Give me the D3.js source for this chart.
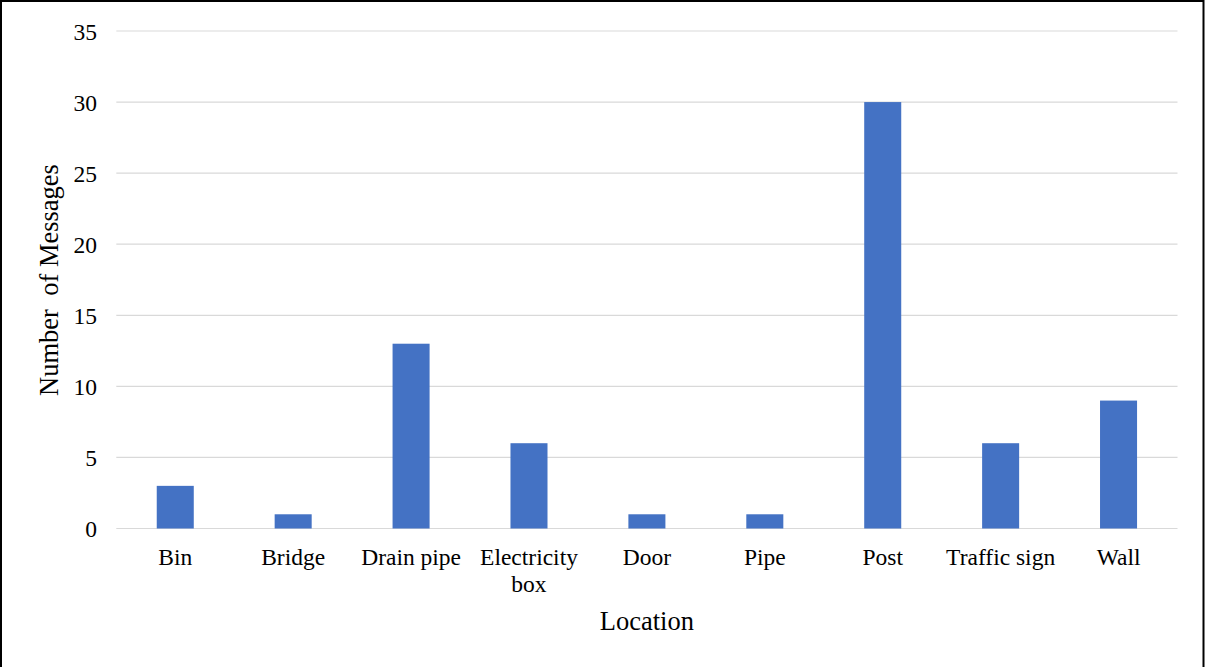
<!DOCTYPE html>
<html>
<head>
<meta charset="utf-8">
<script src="https://cdn.jsdelivr.net/npm/d3@7"></script>
<style>
  html, body { margin: 0; padding: 0; background: #fff; }
  svg { display: block; }
  text { font-family: "Liberation Serif", "Times New Roman", serif; fill: #000; }
</style>
</head>
<body>
<script>
const categories = ["Bin", "Bridge", "Drain pipe", "Electricity box", "Door", "Pipe", "Post", "Traffic sign", "Wall"];
const values = [3, 1, 13, 6, 1, 1, 30, 6, 9];
const yTicks = [0, 5, 10, 15, 20, 25, 30, 35];
const xTitle = "Location";
const yTitle = "Number\u00A0\u00A0of Messages";

const W = 1207, H = 667;
const margin = { left: 116.3, right: 1177.5, top: 31, bottom: 528.5 };

const svg = d3.select("body").append("svg").attr("width", W).attr("height", H);

// outer border
svg.append("path")
  .attr("d", `M1,${H} V1 H1203.5 V${H}`)
  .attr("fill", "none").attr("stroke", "#000").attr("stroke-width", 2);

const x = d3.scaleBand().domain(categories).range([margin.left, margin.right]).paddingInner(0.686).paddingOuter(0.343);
const y = d3.scaleLinear().domain([0, 35]).range([margin.bottom, margin.top]);

// gridlines
svg.append("g").selectAll("line").data(yTicks).join("line")
  .attr("x1", margin.left).attr("x2", margin.right)
  .attr("y1", d => y(d)).attr("y2", d => y(d))
  .attr("stroke", "#D9D9D9").attr("stroke-width", 1.2);

// y axis labels
const yAxis = d3.axisLeft(y).tickValues(yTicks).tickSize(0).tickPadding(0);
const gy = svg.append("g").attr("transform", `translate(97,0)`).call(yAxis);
gy.select(".domain").remove();
gy.selectAll("text").attr("font-size", "23.5px").attr("font-family", "Liberation Serif, Times New Roman, serif").attr("fill", "#000").attr("dy", "0.34em");

// bars
svg.append("g").selectAll("rect").data(categories).join("rect")
  .attr("x", d => x(d))
  .attr("width", x.bandwidth())
  .attr("y", (d, i) => y(values[i]))
  .attr("height", (d, i) => y(0) - y(values[i]))
  .attr("fill", "#4472C4");

// x axis labels (wrapped like the reference)
const xAxis = d3.axisBottom(x).tickSize(0).tickPadding(0).tickFormat(() => "");
const gx = svg.append("g").attr("transform", `translate(0,${margin.bottom})`).call(xAxis);
gx.select(".domain").remove();
gx.selectAll(".tick").each(function(d) {
  const t = d3.select(this).select("text")
    .attr("font-size", "23.5px").attr("font-family", "Liberation Serif, Times New Roman, serif")
    .attr("fill", "#000").attr("text-anchor", "middle").attr("y", 0).attr("dy", null).text(null);
  const lines = d === "Electricity box" ? ["Electricity", "box"] : [d];
  lines.forEach((ln, i) => {
    t.append("tspan").attr("x", 0).attr("y", 36.5 + i * 27).text(ln);
  });
});

// axis titles
svg.append("text").attr("x", (margin.left + margin.right) / 2).attr("y", 630)
  .attr("text-anchor", "middle").attr("font-size", "26.5px").text(xTitle);

svg.append("text").attr("transform", `translate(58,280) rotate(-90)`)
  .attr("text-anchor", "middle").attr("font-size", "26.5px").text(yTitle);
</script>
</body>
</html>
